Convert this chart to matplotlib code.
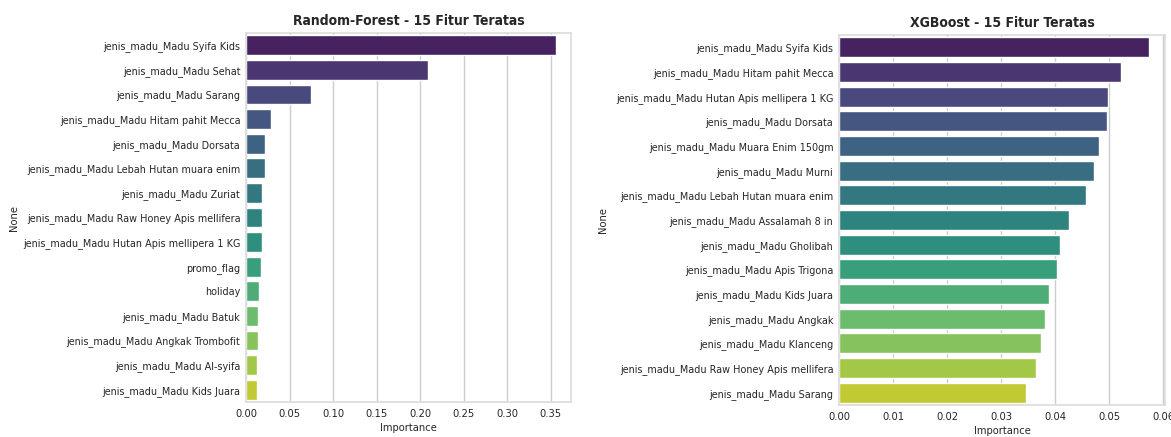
import matplotlib
matplotlib.use("Agg")
import matplotlib.pyplot as plt
import seaborn as sns
import numpy as np

rf_features = [
    "jenis_madu_Madu Syifa Kids", "jenis_madu_Madu Sehat", "jenis_madu_Madu Sarang",
    "jenis_madu_Madu Hitam pahit Mecca", "jenis_madu_Madu Dorsata",
    "jenis_madu_Madu Lebah Hutan muara enim", "jenis_madu_Madu Zuriat",
    "jenis_madu_Madu Raw Honey Apis mellifera", "jenis_madu_Madu Hutan Apis mellipera 1 KG",
    "promo_flag", "holiday", "jenis_madu_Madu Batuk", "jenis_madu_Madu Angkak Trombofit",
    "jenis_madu_Madu Al-syifa", "jenis_madu_Madu Kids Juara",
]
rf_values = [0.3556, 0.209, 0.0749, 0.0282, 0.0214, 0.0213, 0.0184, 0.0183, 0.0180,
             0.0167, 0.0146, 0.0134, 0.0133, 0.0132, 0.0128]

xgb_features = [
    "jenis_madu_Madu Syifa Kids", "jenis_madu_Madu Hitam pahit Mecca",
    "jenis_madu_Madu Hutan Apis mellipera 1 KG", "jenis_madu_Madu Dorsata",
    "jenis_madu_Madu Muara Enim 150gm", "jenis_madu_Madu Murni",
    "jenis_madu_Madu Lebah Hutan muara enim", "jenis_madu_Madu Assalamah 8 in",
    "jenis_madu_Madu Gholibah", "jenis_madu_Madu Apis Trigona", "jenis_madu_Madu Kids Juara",
    "jenis_madu_Madu Angkak", "jenis_madu_Madu Klanceng",
    "jenis_madu_Madu Raw Honey Apis mellifera", "jenis_madu_Madu Sarang",
]
xgb_values = [0.0575, 0.0523, 0.0499, 0.0497, 0.0481, 0.0472, 0.0457, 0.0426, 0.0409,
              0.0404, 0.0388, 0.0382, 0.0375, 0.0364, 0.0346]

sns.set_theme(style="whitegrid")
plt.rcParams['font.family'] = ['DejaVu Sans']
plt.rcParams['font.stretch'] = 'condensed'

W, H = 1171, 437
fig = plt.figure(figsize=(W / 100, H / 100), dpi=100)

def px_axes(l, r, t, b):
    return fig.add_axes([l / W, 1 - b / H, (r - l) / W, (b - t) / H])

ax1 = px_axes(246, 571, 33, 402)
ax2 = px_axes(839, 1165, 35, 405)

for ax, feats, vals, title in [
    (ax1, rf_features, rf_values, "Random-Forest - 15 Fitur Teratas"),
    (ax2, xgb_features, xgb_values, "XGBoost - 15 Fitur Teratas"),
]:
    sns.barplot(x=vals, y=feats, hue=feats, palette="viridis", legend=False, ax=ax)
    ax.set_title(title, fontsize=10, fontweight="bold", pad=6)
    ax.set_xlabel("Importance", fontsize=8, labelpad=3)
    ax.set_ylabel("None", fontsize=8)
    ax.tick_params(axis="y", labelsize=7.75, length=0, pad=4)
    ax.tick_params(axis="x", labelsize=8, length=0, pad=5)
    for s in ax.spines.values():
        s.set_color("#dddddd")

ax1.set_xticks(np.arange(0, 0.351, 0.05))
ax2.set_xticks(np.arange(0, 0.061, 0.01))
ax1.yaxis.set_label_coords(-0.70, 0.5)
ax2.yaxis.set_label_coords(-0.71, 0.5)

fig.savefig("out.png", dpi=100)
